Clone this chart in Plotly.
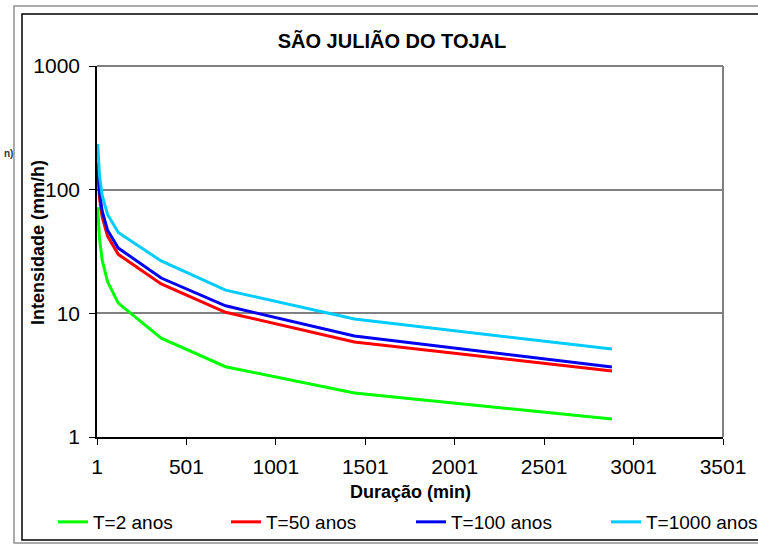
import plotly.graph_objects as go

# ---- data ----
durations = [5, 10, 15, 30, 60, 120, 360, 720, 1440, 2880]
t2 = [72, 50, 40, 27, 18, 12.1, 6.3, 3.7, 2.27, 1.40]
t50 = [150, 105, 85, 60, 42, 30, 17.3, 10.2, 5.86, 3.42]
t100 = [166, 117, 95, 67, 47, 33.7, 19.3, 11.5, 6.56, 3.68]
t1000 = [234, 160, 130, 90, 63, 45, 26.5, 15.4, 9.0, 5.14]
series_names = ["T=2 anos", "T=50 anos", "T=100 anos", "T=1000 anos"]
series_values = [t2, t50, t100, t1000]
series_colors = ["#00FF00", "#FF0000", "#0000EE", "#00CCFF"]
x_ticks = [1, 501, 1001, 1501, 2001, 2501, 3001, 3501]
y_ticks = [1, 10, 100, 1000]

W, H = 758, 544
L, R, T, B = 97, 723, 66, 437
FONT = "Liberation Sans, Arial, sans-serif"

def px(xp):
    return (xp - L) / (R - L)

def py(yp):
    return (B - yp) / (B - T)

legend_ids = ["legend", "legend2", "legend3", "legend4"]
legend_text_x = [94, 267, 452, 647]

fig = go.Figure()
for name, vals, col, lid in zip(series_names, series_values, series_colors, legend_ids):
    fig.add_trace(go.Scatter(x=durations, y=vals, mode="lines", name=name,
                             line=dict(color=col, width=3), legend=lid))

legend_layout = {}
for lid, tx in zip(legend_ids, legend_text_x):
    legend_layout[lid] = dict(orientation="h", x=px(tx - 41), xanchor="left",
                              y=py(522), yanchor="middle",
                              font=dict(size=19, family=FONT),
                              bgcolor="rgba(0,0,0,0)")

fig.update_layout(
    width=W, height=H,
    margin=dict(l=L, r=W - R, t=T, b=H - B, pad=0, autoexpand=False),
    paper_bgcolor="white", plot_bgcolor="white",
    font=dict(family=FONT, color="black"),
    showlegend=True,
    title=dict(text="<b>SÃO JULIÃO DO TOJAL</b>", x=px(392), xanchor="center",
               y=1 - 41 / H, yanchor="middle", xref="paper",
               font=dict(size=20, family=FONT)),
    **legend_layout,
)

fig.update_xaxes(type="linear", range=[1, 3501], tickvals=x_ticks,
                 ticktext=[str(v) for v in x_ticks],
                 showgrid=False, zeroline=False, showline=True, linecolor="black",
                 linewidth=1.5, ticks="outside", ticklen=6, tickcolor="black",
                 tickfont=dict(size=21, family=FONT), ticklabelstandoff=4,
                 automargin=False)
fig.update_yaxes(type="log", range=[0, 3], tickvals=y_ticks,
                 ticktext=[str(v) for v in y_ticks],
                 showgrid=True, gridcolor="#808080", gridwidth=1.5,
                 zeroline=False, showline=True, linecolor="black", linewidth=1.5,
                 ticks="outside", ticklen=6, tickcolor="black",
                 tickfont=dict(size=21, family=FONT), ticklabelstandoff=5,
                 automargin=False)

# axis titles
fig.add_annotation(text="<b>Duração (min)</b>", xref="paper", yref="paper",
                   x=px(410), y=py(492), xanchor="center", yanchor="middle",
                   showarrow=False, font=dict(size=18, family=FONT))
fig.add_annotation(text="<b>Intensidade (mm/h)</b>", xref="paper", yref="paper",
                   x=px(38), y=py(243), xanchor="center", yanchor="middle",
                   textangle=-90, showarrow=False, font=dict(size=18, family=FONT))

# plot area border (top and right) in gray
fig.add_shape(type="line", xref="paper", yref="paper", x0=0, x1=1, y0=1, y1=1,
              line=dict(color="#808080", width=2))
fig.add_shape(type="line", xref="paper", yref="paper", x0=1, x1=1, y0=0, y1=1,
              line=dict(color="#808080", width=2))

# chart frames
fig.add_shape(type="rect", xref="paper", yref="paper", x0=px(14), x1=px(800),
              y0=py(543), y1=py(6), line=dict(color="#909090", width=1.5),
              layer="below")
fig.add_shape(type="rect", xref="paper", yref="paper", x0=px(22), x1=px(800),
              y0=py(540), y1=py(14), line=dict(color="black", width=1.5),
              layer="below")

# fragment of neighbouring text at the left edge
fig.add_annotation(text="<b>n)</b>", xref="paper", yref="paper", x=px(2), y=py(153),
                   xanchor="left", yanchor="middle", showarrow=False,
                   font=dict(size=10, family=FONT, color="#333333"))

fig.write_html("out.html")
